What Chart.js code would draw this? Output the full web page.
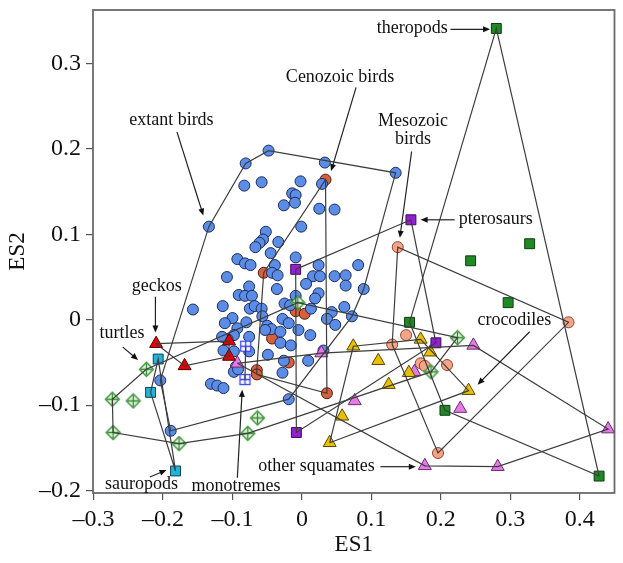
<!DOCTYPE html>
<html>
<head>
<meta charset="utf-8">
<script src="https://cdn.jsdelivr.net/npm/chart.js@4.4.1/dist/chart.umd.min.js"></script>
<style>
  html, body { margin: 0; padding: 0; background: #fff; }
  #wrap { width: 623px; height: 563px; }
</style>
</head>
<body>
<div id="wrap"><canvas id="esPlot"></canvas></div>
<script>
// ES1 / ES2 scores, one [ES1, ES2] pair per taxon
const extantBirds = [
  [-0.048, 0.198], [-0.081, 0.183], [0.033, 0.184], [0.135, 0.172], [-0.083, 0.157],
  [-0.058, 0.161], [-0.002, 0.162], [0.029, 0.159], [-0.014, 0.148], [-0.009, 0.146],
  [-0.010, 0.137], [-0.026, 0.134], [0.025, 0.130], [0.047, 0.129], [-0.134, 0.109],
  [-0.001, 0.109], [-0.052, 0.103], [-0.056, 0.094], [-0.061, 0.090], [-0.067, 0.085],
  [-0.034, 0.091], [-0.045, 0.078], [-0.093, 0.071], [-0.009, 0.073], [-0.082, 0.066],
  [-0.074, 0.064], [-0.039, 0.064], [0.024, 0.064], [0.081, 0.064], [-0.108, 0.050],
  [-0.043, 0.055], [-0.035, 0.052], [0.016, 0.051], [0.026, 0.051], [0.047, 0.051],
  [0.063, 0.052], [-0.076, 0.039], [0.006, 0.042], [0.063, 0.040], [-0.091, 0.029],
  [-0.082, 0.028], [-0.072, 0.028], [-0.036, 0.036], [0.024, 0.031], [0.019, 0.025],
  [-0.009, 0.028], [0.089, 0.036], [-0.025, 0.019], [-0.114, 0.016], [-0.157, 0.012],
  [-0.075, 0.013], [-0.068, 0.016], [-0.058, 0.013], [-0.017, 0.017], [0.013, 0.013],
  [0.043, 0.009], [0.061, 0.015], [-0.057, 0.004], [-0.080, -0.003], [-0.100, 0.002],
  [-0.111, -0.004], [-0.093, -0.010], [-0.028, 0.001], [-0.019, -0.004], [0.036, 0.001],
  [0.048, -0.006], [-0.050, -0.007], [-0.044, -0.011], [-0.053, -0.012], [-0.031, -0.014],
  [-0.005, -0.012], [0.012, -0.018], [-0.098, -0.018], [-0.107, -0.023], [-0.076, -0.020],
  [-0.031, -0.027], [-0.016, -0.030], [-0.115, -0.020], [-0.076, -0.037], [-0.113, -0.036],
  [-0.098, -0.037], [-0.049, -0.041], [-0.026, -0.048], [0.009, -0.048], [0.031, -0.036],
  [-0.095, -0.055], [-0.098, -0.061], [-0.092, -0.058], [-0.028, -0.062], [-0.131, -0.075],
  [-0.122, -0.077], [-0.113, -0.080], [-0.019, -0.093], [0.072, 0.004], [-0.204, -0.071],
  [-0.189, -0.130]
];
const cenozoicBirds = [
  [0.034, 0.164], [-0.055, 0.055], [-0.009, 0.010], [0.004, 0.007], [-0.043, -0.022],
  [-0.019, -0.050], [-0.065, -0.059], [-0.065, -0.064], [0.036, -0.086]
];
const mesozoicBirds = [
  [0.138, 0.085], [0.150, -0.018], [0.130, -0.029], [0.171, -0.051], [0.177, -0.054],
  [0.209, -0.053], [0.196, -0.156], [0.384, -0.003]
];
const pterosaurs = [[0.157, 0.117], [-0.009, 0.059], [0.193, -0.027], [-0.008, -0.132]];
const theropods = [
  [0.280, 0.341], [0.328, 0.089], [0.243, 0.069], [0.297, 0.020], [0.155, -0.003],
  [0.206, -0.106], [0.428, -0.183]
];
const sauropods = [[-0.207, -0.046], [-0.218, -0.085], [-0.182, -0.177]];
const monotremes = [[-0.081, -0.031], [-0.082, -0.070]];
const geckos = [[-0.210, -0.028], [-0.169, -0.054], [-0.105, -0.025], [-0.105, -0.043]];
const turtles = [
  [-0.224, -0.058], [-0.273, -0.093], [-0.243, -0.095], [-0.272, -0.132], [-0.177, -0.145],
  [-0.078, -0.133], [-0.064, -0.115], [-0.006, 0.020], [0.224, -0.021], [0.186, -0.061]
];
const crocodiles = [
  [0.074, -0.031], [0.110, -0.048], [0.171, -0.023], [0.185, -0.038], [0.154, -0.062],
  [0.125, -0.076], [0.058, -0.113], [0.040, -0.144], [0.240, -0.083]
];
const otherSquamates = [
  [-0.093, -0.051], [0.028, -0.039], [0.076, -0.095], [0.162, -0.061], [0.177, -0.171],
  [0.247, -0.030], [0.228, -0.104], [0.441, -0.128], [0.282, -0.172]
];

const xTicks = [-0.3, -0.2, -0.1, 0, 0.1, 0.2, 0.3, 0.4];
const yTicks = [-0.2, -0.1, 0, 0.1, 0.2, 0.3];

// small canvas markers for the two hatched symbols
function marker(kind) {
  const c = document.createElement('canvas');
  c.width = 17; c.height = 17;
  const g = c.getContext('2d');
  g.lineWidth = 1.3;
  if (kind === 'turtle') {
    g.beginPath();
    g.moveTo(8.5, 1.5); g.lineTo(15.5, 8.5); g.lineTo(8.5, 15.5); g.lineTo(1.5, 8.5); g.closePath();
    g.fillStyle = '#e8f5e2'; g.fill();
    g.strokeStyle = '#2f8c2f'; g.stroke();
    g.beginPath();
    g.moveTo(8.5, 3); g.lineTo(8.5, 14); g.moveTo(3, 8.5); g.lineTo(14, 8.5);
    g.stroke();
  } else {
    g.fillStyle = '#ffffff';
    g.fillRect(3.5, 3.5, 10, 10);
    g.strokeStyle = '#3a46f0';
    g.strokeRect(3.5, 3.5, 10, 10);
    g.beginPath();
    g.moveTo(8.5, 3.5); g.lineTo(8.5, 13.5); g.moveTo(3.5, 8.5); g.lineTo(13.5, 8.5);
    g.stroke();
  }
  return c;
}

const groups = [
  { label: 'extant birds', pts: extantBirds, style: 'circle', r: 5.5, fill: '#5b8de6', edge: '#1d2b5a', order: 3 },
  { label: 'Cenozoic birds', pts: cenozoicBirds, style: 'circle', r: 5.5, fill: '#d65f3c', edge: '#4a1a10', order: 4 },
  { label: 'Mesozoic birds', pts: mesozoicBirds, style: 'circle', r: 5.5, fill: '#f5a587', edge: '#8f4430', order: 4 },
  { label: 'pterosaurs', pts: pterosaurs, style: 'rect', r: 7, fill: '#9420d4', edge: '#3a0a55', order: 2 },
  { label: 'theropods', pts: theropods, style: 'rect', r: 7, fill: '#1f8a23', edge: '#0d3a10', order: 2 },
  { label: 'sauropods', pts: sauropods, style: 'rect', r: 7, fill: '#22b4d8', edge: '#0d4455', order: 2 },
  { label: 'monotremes', pts: monotremes, style: marker('mono'), r: 7, fill: '#fff', edge: '#3a46f0', order: 2 },
  { label: 'geckos', pts: geckos, style: 'triangle', r: 7.5, fill: '#e60000', edge: '#550000', order: 2 },
  { label: 'turtles', pts: turtles, style: marker('turtle'), r: 7, fill: '#e8f5e2', edge: '#2f8c2f', order: 2 },
  { label: 'crocodiles', pts: crocodiles, style: 'triangle', r: 7.5, fill: '#e8c000', edge: '#5a4700', order: 2 },
  { label: 'other squamates', pts: otherSquamates, style: 'triangle', r: 7.5, fill: '#e27be6', edge: '#6e2a70', order: 2 }
];

// convex hull (monotone chain) around each group's points
function hull(pts) {
  const p = pts.slice().sort((a, b) => a[0] - b[0] || a[1] - b[1]);
  if (p.length < 3) return p;
  const cross = (o, a, b) => (a[0] - o[0]) * (b[1] - o[1]) - (a[1] - o[1]) * (b[0] - o[0]);
  const lower = [], upper = [];
  for (const q of p) {
    while (lower.length >= 2 && cross(lower[lower.length - 2], lower[lower.length - 1], q) <= 0) lower.pop();
    lower.push(q);
  }
  for (const q of p.slice().reverse()) {
    while (upper.length >= 2 && cross(upper[upper.length - 2], upper[upper.length - 1], q) <= 0) upper.pop();
    upper.push(q);
  }
  lower.pop(); upper.pop();
  const h = lower.concat(upper);
  h.push(h[0]);
  return h;
}

const datasets = [];
groups.forEach(g => {
  datasets.push({
    label: g.label + ' hull',
    data: hull(g.pts).map(([x, y]) => ({ x, y })),
    showLine: true,
    pointRadius: 0,
    borderColor: '#3d3d3d',
    borderWidth: 1.2,
    tension: 0,
    fill: false,
    order: 1
  });
  datasets.push({
    label: g.label,
    data: g.pts.map(([x, y]) => ({ x, y })),
    pointStyle: g.style,
    pointRadius: g.r,
    backgroundColor: g.fill,
    borderColor: g.edge,
    borderWidth: 1,
    order: g.order
  });
});

// labels with arrows, placed in data units
const notes = [
  { lines: ['theropods'], at: [0.210, 0.341], align: 'right', arrow: [0.214, 0.340, 0.271, 0.340] },
  { lines: ['Cenozoic birds'], at: [0.055, 0.284], arrow: [0.078, 0.272, 0.042, 0.174] },
  { lines: ['Mesozoic', 'birds'], at: [0.160, 0.232], arrow: [0.158, 0.197, 0.141, 0.096] },
  { lines: ['extant birds'], at: [-0.188, 0.233], arrow: [-0.180, 0.220, -0.142, 0.122] },
  { lines: ['pterosaurs'], at: [0.226, 0.118], align: 'left', arrow: [0.220, 0.117, 0.171, 0.117] },
  { lines: ['crocodiles'], at: [0.306, -0.001], arrow: [0.328, -0.014, 0.253, -0.076] },
  { lines: ['geckos'], at: [-0.209, 0.039], arrow: [-0.211, 0.027, -0.211, -0.015] },
  { lines: ['turtles'], at: [-0.259, -0.016], arrow: [-0.258, -0.032, -0.236, -0.047] },
  { lines: ['sauropods'], at: [-0.231, -0.192], arrow: [-0.219, -0.184, -0.195, -0.176] },
  { lines: ['monotremes'], at: [-0.095, -0.195], arrow: [-0.093, -0.185, -0.086, -0.082] },
  { lines: ['other squamates'], at: [0.021, -0.171], arrow: [0.113, -0.172, 0.164, -0.172] }
];

const framePlugin = {
  id: 'frame',
  beforeDatasetsDraw(chart) {
    const { ctx, chartArea: a } = chart;
    ctx.save();
    ctx.strokeStyle = '#6a6a6a';
    ctx.lineWidth = 1.8;
    ctx.strokeRect(a.left, a.top, a.right - a.left, a.bottom - a.top);
    ctx.restore();
  }
};

const notesPlugin = {
  id: 'notes',
  afterDraw(chart) {
    const { ctx } = chart;
    const xs = chart.scales.x, ys = chart.scales.y;
    ctx.save();
    ctx.font = '18px "Liberation Serif", "Times New Roman", serif';
    ctx.strokeStyle = '#222';
    ctx.lineWidth = 1.2;
    notes.forEach(n => {
      const px = xs.getPixelForValue(n.at[0]);
      const py = ys.getPixelForValue(n.at[1]);
      ctx.fillStyle = '#111';
      ctx.textAlign = n.align || 'center';
      ctx.textBaseline = 'middle';
      n.lines.forEach((t, i) => ctx.fillText(t, px, py + i * 18));
      const [x1, y1, x2, y2] = n.arrow;
      const ax = xs.getPixelForValue(x1), ay = ys.getPixelForValue(y1);
      const bx = xs.getPixelForValue(x2), by = ys.getPixelForValue(y2);
      const ang = Math.atan2(by - ay, bx - ax);
      ctx.beginPath();
      ctx.moveTo(ax, ay);
      ctx.lineTo(bx - 5 * Math.cos(ang), by - 5 * Math.sin(ang));
      ctx.stroke();
      ctx.beginPath();
      ctx.moveTo(bx, by);
      ctx.lineTo(bx - 7 * Math.cos(ang) + 3 * Math.sin(ang), by - 7 * Math.sin(ang) - 3 * Math.cos(ang));
      ctx.lineTo(bx - 7 * Math.cos(ang) - 3 * Math.sin(ang), by - 7 * Math.sin(ang) + 3 * Math.cos(ang));
      ctx.closePath();
      ctx.fill();
    });
    ctx.restore();
  }
};

const tickFmt = v => (v === 0 ? '0' : (v < 0 ? '\u2013' : '') + Math.abs(v).toFixed(1));
const serif = '"Liberation Serif", "Times New Roman", serif';

new Chart(document.getElementById('esPlot'), {
  type: 'scatter',
  data: { datasets },
  options: {
    responsive: true,
    maintainAspectRatio: false,
    animation: false,
    events: [],
    layout: { padding: { left: 0, top: 10, right: 5, bottom: 0 } },
    plugins: { legend: { display: false }, tooltip: { enabled: false } },
    scales: {
      x: {
        type: 'linear',
        min: -0.3009,
        max: 0.4502,
        afterBuildTicks: s => { s.ticks = xTicks.map(v => ({ value: v })); },
        afterFit: s => { s.height = 70; s.paddingLeft = 0; s.paddingRight = 0; },
        border: { display: false },
        grid: { drawOnChartArea: false, drawTicks: true, tickLength: 7, color: '#555', lineWidth: 1.2 },
        ticks: { callback: tickFmt, color: '#111', padding: 5, font: { family: serif, size: 24 } },
        title: { display: true, text: 'ES1', color: '#111', font: { family: serif, size: 23 } }
      },
      y: {
        type: 'linear',
        min: -0.2028,
        max: 0.3626,
        afterBuildTicks: s => { s.ticks = yTicks.map(v => ({ value: v })); },
        afterFit: s => { s.width = 93; s.paddingTop = 0; s.paddingBottom = 0; },
        border: { display: false },
        grid: { drawOnChartArea: false, drawTicks: true, tickLength: 7, color: '#555', lineWidth: 1.2 },
        ticks: { callback: tickFmt, color: '#111', padding: 5, font: { family: serif, size: 24 } },
        title: { display: true, text: 'ES2', color: '#111', font: { family: serif, size: 23 } }
      }
    }
  },
  plugins: [framePlugin, notesPlugin]
});
</script>
</body>
</html>
